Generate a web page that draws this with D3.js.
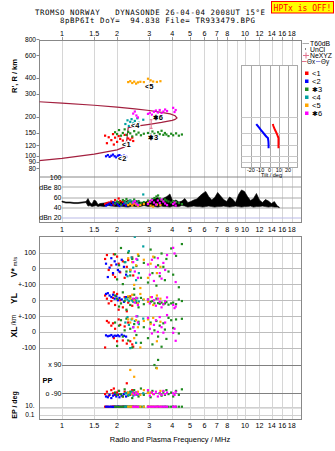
<!DOCTYPE html>
<html>
<head>
<meta charset="utf-8">
<script src="https://cdn.jsdelivr.net/npm/d3@7"></script>
<style>
body{margin:0;background:#fff;}
svg{display:block;font-family:"Liberation Sans",Arial,sans-serif;}
.mono{font-family:"DejaVu Sans Mono",monospace;white-space:pre;}
</style>
</head>
<body>
<svg id="chart" width="335" height="451"></svg>
<script>
(function(){
// ---- axis ticks ----
const topFreqTicks=[1,1.5,2,3,4,5,6,7,8,10,12,14,16,18];
const midFreqTicks=[1,1.5,2,3,4,5,6,7,8,9,10,12,14,16,18];
const heightTicks=[800,600,400,300,200,150,120,100,90,80];
const dbTicks=[100,80,60,40,20];
const dbTickText=['100','dBe 80','60','40','dBn 20'];
const tiltTicks=[-20,-10,0,10,20];
const insetHeights=[200,150,120,100,90];

// ---- clusters ----
const clusterMarks=['<','<','\u2731','<','<','\u2731'];
const clusterNums=['1','2','3','4','5','6'];
const clusterColors=['#ff0000','#0000ff','#1f8a1f','#00a0a0','#ffa500','#ff00ff'];
const clusterLabelF=[2.13,2.02,2.95,2.38,2.84,3.13];
const clusterLabelH=[117,91,132,163,326,189];

// echo rows: [freq MHz, height km, dB, V* m/s, YL km, XL km, PP deg, EP deg]
const echo1=[
  [1.72,143,47,60,30,-100,-95,10],[1.76,125,49,85,10,70,-80,10],[1.80,139,50,-10,-20,60,-105,9],
  [1.86,132,52,20,-5,40,-70,10],[1.90,147,48,-40,15,55,-90,11],[1.92,122,46,90,50,-40,-60,10],
  [1.95,138,55,-55,-30,20,-100,10],[2.00,128,50,75,40,-60,-85,9],[2.04,142,58,30,-60,80,-75,10],
  [2.08,135,53,-25,0,45,-95,10],[2.15,131,51,45,-45,-55,-110,11],[2.20,145,47,-60,20,35,-80,10],
  [2.26,127,49,10,-70,-75,-27,10],[2.30,136,52,53,-15,60,-90,9],[2.36,133,50,-11,25,-60,-100,10],
  [2.42,138,46,70,-35,-80,-70,10],[2.45,130,48,-45,5,-95,-85,11]
];
const echo2=[
  [1.74,99,44,30,40,-22,-110,10],[1.78,101,46,-55,45,-28,-115,10],[1.82,98,48,5,30,-25,-100,10],
  [1.86,100,45,65,20,-20,-120,10],[1.90,102,50,-30,35,-30,-105,9],[1.94,99,47,45,10,-24,-95,10],
  [1.98,97,49,25,25,-26,-110,10],[2.02,100,46,-10,0,-22,-100,11],[2.06,101,43,-20,15,-28,-115,10],
  [2.12,99,45,55,5,-18,-105,10],[2.18,100,48,10,-10,-25,-95,10],[2.24,98,44,-40,20,-30,-110,10]
];
const echo3=[
  [1.95,152,48,90,30,60,-85,10],[2.00,147,52,-70,10,-90,-100,10],[2.05,158,50,20,-40,40,-75,9],
  [2.10,143,46,130,-20,75,-95,10],[2.15,150,55,-100,50,-30,-110,10],[2.20,160,53,40,-5,10,-65,11],
  [2.25,145,57,-20,-60,85,-90,10],[2.30,153,51,100,20,-55,-105,10],[2.36,149,54,-45,-30,20,-80,10],
  [2.42,141,52,60,0,-100,-120,10],[2.48,155,56,-130,35,50,-70,9],[2.55,146,50,15,-15,-20,-95,10],
  [2.62,151,53,80,-45,65,-110,10],[2.70,144,49,-60,15,-70,-60,10],[2.80,148,51,35,-25,30,-100,10],
  [2.95,150,54,-90,5,-40,-85,11],[3.05,146,52,120,-10,60,-115,10],[3.12,154,57,-30,-5,-80,-75,10],
  [3.20,148,59,70,-20,10,88,10],[3.28,144,62,-110,10,70,70,10],[3.35,152,64,20,-18,-30,120,10],
  [3.42,147,58,-50,-22,40,-90,9],[3.50,156,55,95,-15,-95,-105,10],[3.58,145,53,10,-25,55,-80,10],
  [3.65,150,56,-75,-20,15,-100,10],[3.72,146,54,60,-12,-45,-70,10],[3.82,142,52,-20,-28,90,-95,10],
  [3.95,148,50,127,-20,75,-85,10],[4.05,144,53,-40,-15,25,-110,11],[4.20,149,51,80,-25,80,-75,10],
  [4.35,143,49,-120,5,-10,-100,10],[4.52,146,47,155,-5,84,-65,10]
];
const echo4=[
  [2.22,176,50,40,10,60,-90,10],[2.28,188,48,-50,5,95,-85,10],[2.32,170,52,110,-5,45,-100,10],
  [2.36,183,54,-20,15,-104,-95,9],[2.40,192,49,70,0,80,-80,10],[2.45,178,51,5,-10,30,-105,10],
  [2.50,186,53,201,8,70,-90,10],[2.54,172,47,-75,-3,-70,-85,11],[2.58,195,50,55,12,100,-100,10],
  [2.63,180,46,-30,-8,50,-95,10],[2.78,190,66,140,2,85,-90,10]
];
const echo5=[
  [2.30,372,45,65,25,80,-85,10],[2.36,378,47,-10,10,60,57,10],[2.42,366,44,40,35,85,-95,10],
  [2.48,375,48,-105,0,-40,14,9],[2.54,362,46,20,15,75,-90,10],[2.60,370,43,90,-20,30,-80,10],
  [2.68,374,45,-125,40,-100,-100,10],[2.80,372,47,55,5,70,-70,10],[2.95,395,49,-60,-10,80,-88,11],
  [3.05,384,44,30,20,50,-85,10],[3.15,376,42,75,-30,90,-95,10],[3.30,373,46,-30,30,-60,67,10],
  [3.45,378,45,10,10,65,-75,10]
];
const echo6=[
  [2.45,212,50,40,10,30,-90,10],[2.50,220,53,-20,-15,5,-100,10],[2.55,205,48,60,15,100,-85,10],
  [2.60,198,45,-60,-30,60,-95,9],[2.95,211,47,25,5,90,-70,10],[3.02,215,52,-40,-20,20,-105,10],
  [3.10,208,55,55,20,-10,-85,10],[3.18,219,50,-80,0,45,-95,10],[3.26,224,46,10,-35,75,-80,10],
  [3.34,216,54,65,10,0,-110,11],[3.42,226,49,-30,-10,95,-90,10],[3.50,213,56,-65,-45,30,-100,10],
  [3.58,220,52,35,-25,-5,-75,10],[3.66,228,48,-10,-5,60,-95,10],[3.75,222,45,85,18,108,-85,10],
  [4.05,235,47,131,-30,-6,-90,10],[4.12,218,50,95,-50,20,-100,10],[4.18,226,44,-87,-40,-57,-80,10]
];
const echoes=[echo1,echo2,echo3,echo4,echo5,echo6];

// ---- profile curve (upper edge out, lower edge back) ----
const profileF=[0.749,1.0,1.5,2.0,2.5,3.0,3.5,3.9,4.15,4.25,4.15,4.0,3.5,3.0,2.5,2.3,2.27,2.24,2.2,2.0,1.5,1.0,0.749];
const profileH=[262,256,246,238,231,224,217,211,204,196,191,188,181,175,169,165,140,121,117,111,103,95.5,91.5];
const errBarF=3.07, errBarH=[163,190];

// ---- tilt inset ----
const tiltH=[176,170,164,158,152,146,141,137,130,122,114];
const tiltX=[3.6,4.2,5.0,6.0,7.2,8.3,9.0,9.7,9.7,9.7,9.7];
const tiltY=[-14.3,-12.7,-11.0,-9.2,-7.3,-5.3,-3.5,-1.7,-1.2,-1.0,-1.0];

// ---- dBe trace ----
const dbeFreq=[1.00,1.05,1.106,1.163,1.223,1.286,1.353,1.387,1.422,1.458,1.496,1.534,1.573,1.613,
  1.697,1.784,1.876,1.973,2.075,2.182,2.295,2.413,2.538,2.669,2.807,2.952,3.104,3.223,
  3.346,3.474,3.607,3.745,3.888,4.037,4.191,4.352,4.518,4.691,4.87,5.057,5.25,5.451,
  5.66,5.876,6.101,6.334,6.577,6.828,7.09,7.36,7.643,7.935,8.239,8.554,8.881,9.221,
  9.573,9.94,10.32,10.72,11.13,11.55,12.0,12.45,12.93,13.43,13.94,14.47,15.03,15.4];
const dbeHi=[53,51,51,50,50,51,52,58,50,47,55,53,46,48,
  49,50,52,51,53,50,55,52,54,51,50,53,56,58,
  60,55,59,62,67,52,55,51,53,58,50,52,55,57,
  63,68,72,62,55,60,70,63,56,52,61,57,50,66,
  75,72,62,54,58,68,55,50,56,53,48,52,43,41];
const dbeLo=[51,49,49,48,48,49,50,43,44,42,43,44,42,43,
  42,44,43,42,43,42,41,43,42,42,44,42,43,42,
  41,43,42,42,41,43,42,42,44,43,41,42,43,42,
  42,41,42,43,42,41,42,42,43,42,41,42,43,42,
  41,42,42,43,41,42,42,43,42,41,42,41,41,40];

// ---- scales ----
const x=d3.scaleLog().domain([1,10]).range([62,245]);
const yH=d3.scaleLog().domain([100,800]).range([155.7,39.2]);
const yDb=d3.scaleLinear().domain([20,100]).range([217.7,177.3]);
const yV=d3.scaleLinear().domain([-100,100]).range([284.1,252.7]);
const yYL=d3.scaleLinear().domain([-100,100]).range([316,284.5]);
const yXL=d3.scaleLinear().domain([-100,100]).range([347.5,316.3]);
const yPP=d3.scaleLinear().domain([-90,90]).range([393.3,364.7]);
const yEP=d3.scaleLog().domain([0.1,10]).range([415,406.7]);
const xT=d3.scaleLinear().domain([-30,30]).range([241.7,297.3]);

const L=39.5,R=301.5,T1=40.5,B1=222.5,T2=236.5,B2=419.5;
const px=v=>Math.round(v)+0.5;

const svg=d3.select('#chart');
const defs=svg.append('defs');
defs.append('clipPath').attr('id','clipTop').append('rect').attr('x',L).attr('y',T1).attr('width',R-L).attr('height',177.3-T1);
defs.append('clipPath').attr('id','clipLow').append('rect').attr('x',L).attr('y',T2).attr('width',R-L).attr('height',B2-T2);

// header
svg.append('text').attr('class','mono').attr('x',35).attr('y',14.5).attr('font-size',7.4)
  .attr('textLength',230).attr('lengthAdjust','spacing')
  .text('TROMSO NORWAY   DYNASONDE 26-04-04 2008UT 15\u00b0E');
svg.append('text').attr('class','mono').attr('x',60).attr('y',22.5).attr('font-size',7.4)
  .attr('textLength',195).attr('lengthAdjust','spacing')
  .text('8pBP6It DoY=  94.838 File= TR933479.BPG');
svg.append('rect').attr('x',271.5).attr('y',1.5).attr('width',62).attr('height',11.5).attr('fill','#ffff00').attr('stroke','#ff0000');
svg.append('text').attr('class','mono').attr('x',302.5).attr('y',10.5).attr('text-anchor','middle').attr('font-size',8)
  .attr('fill','#ff0000').text('HPTx is OFF!');

// frequency gridlines
const grid=svg.append('g').attr('stroke','#d6d6d6').attr('stroke-width',1);
midFreqTicks.forEach(f=>{
  grid.append('line').attr('x1',px(x(f))).attr('x2',px(x(f))).attr('y1',T1).attr('y2',B1);
  grid.append('line').attr('x1',px(x(f))).attr('x2',px(x(f))).attr('y1',T2).attr('y2',B2);
});
topFreqTicks.forEach(f=>{
  grid.append('line').attr('x1',px(x(f))).attr('x2',px(x(f))).attr('y1',37).attr('y2',T1).attr('stroke','#999');
});

// dBe horizontal lines
dbTicks.forEach(v=>{
  svg.append('line').attr('x1',v===100?L:62).attr('x2',R).attr('y1',px(yDb(v))-0.5).attr('y2',px(yDb(v))-0.5)
    .attr('stroke',v===100?'#888':(v===20?'#b9b9e6':'#aaa'));
});

// lower panel horizontal lines
const lowLines=[[yV,100],[yV,0],[yV,-100],[yYL,0],[yYL,-100],[yXL,0],[yXL,-100]];
lowLines.forEach(([s,v])=>svg.append('line').attr('x1',L).attr('x2',R).attr('y1',px(s(v))).attr('y2',px(s(v))).attr('stroke','#bdbdbd'));
[90,-90].forEach(v=>svg.append('line').attr('x1',62).attr('x2',R).attr('y1',px(yPP(v))).attr('y2',px(yPP(v))).attr('stroke','#808080'));
[10,0.1].forEach(v=>svg.append('line').attr('x1',L).attr('x2',R).attr('y1',px(yEP(v))).attr('y2',px(yEP(v))).attr('stroke','#d0d0d0'));
svg.append('line').attr('x1',L).attr('x2',R).attr('y1',408.5).attr('y2',408.5).attr('stroke','#e0e0e0');

// frames
svg.append('rect').attr('x',L).attr('y',T1).attr('width',R-L).attr('height',B1-T1).attr('fill','none').attr('stroke','#888');
svg.append('rect').attr('x',L).attr('y',T2).attr('width',R-L).attr('height',B2-T2).attr('fill','none').attr('stroke','#888');

// frequency labels
const tl=svg.append('g').attr('font-size',7.2).attr('text-anchor','middle').attr('fill','#000');
topFreqTicks.forEach(f=>tl.append('text').attr('x',x(f)).attr('y',35.5).text(f));
midFreqTicks.forEach(f=>tl.append('text').attr('x',x(f)).attr('y',232).text(f));
topFreqTicks.forEach(f=>tl.append('text').attr('x',x(f)).attr('y',427.5).text(f));
svg.append('text').attr('x',170).attr('y',441.5).attr('text-anchor','middle').attr('font-size',7.5)
  .text('Radio and Plasma Frequency / MHz');

// height labels
const hl=svg.append('g').attr('font-size',6.6).attr('text-anchor','end');
heightTicks.forEach(h=>{
  hl.append('text').attr('x',36).attr('y',yH(h)+2.3).text(h);
  svg.append('line').attr('x1',36.5).attr('x2',L).attr('y1',px(yH(h))).attr('y2',px(yH(h))).attr('stroke','#888');
});
const il=svg.append('g').attr('font-size',7).attr('text-anchor','end');
dbTicks.forEach((v,i)=>{
  il.append('text').attr('x',61.5).attr('y',yDb(v)+2.5).text(dbTickText[i]);
});
const lowLabels=[[yV,100,'100'],[yV,0,'0'],[yV,-100,'+-100'],[yYL,0,'0'],[yYL,-100,'+-100'],[yXL,0,'0'],[yXL,-100,'-100']];
lowLabels.forEach(([s,v,t])=>il.append('text').attr('x',36).attr('y',s(v)+2.5).text(t));
il.append('text').attr('x',61.5).attr('y',yPP(90)+2.5).text('x 90');
il.append('text').attr('x',61.5).attr('y',yPP(-90)+2.5).text('o -90');
hl.append('text').attr('x',34.5).attr('y',yEP(10)+1.5).text('10.');
hl.append('text').attr('x',34.5).attr('y',yEP(0.1)+2.3).text('0.1');

// side titles
const rot=(t,cx,cy,size,bold)=>svg.append('text').attr('transform',`translate(${cx},${cy}) rotate(-90)`)
  .attr('text-anchor','middle').attr('font-size',size).attr('font-weight',bold?'bold':'normal').text(t);
rot("R', R / km",16.5,76,7.5,true);
const vt=svg.append('text').attr('transform','translate(16.5,267) rotate(-90)').attr('text-anchor','middle');
vt.append('tspan').attr('font-size',8.5).attr('font-weight','bold').text('V*');
vt.append('tspan').attr('font-size',6).text(' m/s');
rot('YL',16.5,298.5,8.5,true);
rot('/km',15.5,320,6.5,false);
rot('XL',16.5,332,8.5,true);
rot('EP / deg',16.5,405,7,true);
svg.append('text').attr('x',42.5).attr('y',383).attr('font-size',7.5).attr('font-weight','bold').text('PP');

// cluster tag: small arrow/star mark + number
const tag=(sel,i,size)=>{
  const star=clusterMarks[i]!=='<';
  sel.append('tspan').attr('font-size',star?size*0.9:size).text(clusterMarks[i]);
  sel.append('tspan').attr('font-size',size).text(clusterNums[i]);
};

// ---- top panel ----
const top=svg.append('g').attr('clip-path','url(#clipTop)');
const prof=profileF.map((f,i)=>[f,profileH[i]]);
top.append('path').datum(prof).attr('fill','none').attr('stroke','#a3203f').attr('stroke-width',1.2)
  .attr('d',d3.line().x(d=>x(d[0])).y(d=>yH(d[1])));
const ebx=x(errBarF);
top.append('path').attr('fill','none').attr('stroke','#e0708c').attr('stroke-width',1)
  .attr('d',`M${ebx-1.5},${yH(errBarH[0])}H${ebx+1.5}M${ebx},${yH(errBarH[0])}V${yH(errBarH[1])}M${ebx-1.5},${yH(errBarH[1])}H${ebx+1.5}`);

const sq=2.2;
echoes.forEach((rows,ci)=>{
  top.append('g').attr('fill',clusterColors[ci]).selectAll('rect').data(rows).join('rect')
    .attr('x',d=>x(d[0])-sq/2).attr('y',d=>yH(d[1])-sq/2).attr('width',sq).attr('height',sq);
});
echoes.forEach((rows,ci)=>{
  const t=top.append('text').attr('x',x(clusterLabelF[ci])).attr('y',yH(clusterLabelH[ci]))
    .attr('font-weight','bold').attr('fill','#000')
    .attr('stroke','#fff').attr('stroke-width',2).attr('paint-order','stroke');
  tag(t,ci,7.5);
});

// tilt inset
const ins=svg.append('g');
ins.append('rect').attr('x',241.5).attr('y',65.5).attr('width',56).attr('height',102).attr('fill','#fff').attr('stroke','#aaa');
tiltTicks.forEach(t=>ins.append('line').attr('x1',px(xT(t))).attr('x2',px(xT(t))).attr('y1',65.5).attr('y2',167.5).attr('stroke','#aaa'));
insetHeights.forEach(h=>ins.append('line').attr('x1',241.5).attr('x2',297.5).attr('y1',px(yH(h))).attr('y2',px(yH(h))).attr('stroke','#c8c8c8'));
ins.append('path').datum(tiltH.map((h,i)=>[tiltY[i],h])).attr('fill','none').attr('stroke','#0000ff').attr('stroke-width',2)
  .attr('d',d3.line().x(d=>xT(d[0])).y(d=>yH(d[1])));
ins.append('path').datum(tiltH.map((h,i)=>[tiltX[i],h])).attr('fill','none').attr('stroke','#ff0000').attr('stroke-width',2)
  .attr('d',d3.line().x(d=>xT(d[0])).y(d=>yH(d[1])));
tiltTicks.forEach(t=>ins.append('text').attr('x',xT(t)).attr('y',172).attr('text-anchor','middle').attr('font-size',5.5).text(t));
ins.append('text').attr('x',xT(0)+2).attr('y',176.5).attr('text-anchor','middle').attr('font-size',5.5).text('Tilt / deg');

// dBe trace
const dbe=dbeFreq.map((f,i)=>({f,hi:dbeHi[i],lo:dbeLo[i]}));
svg.append('path').datum(dbe).attr('fill','#000').attr('stroke','#000').attr('stroke-width',0.6)
  .attr('d',d3.area().x(d=>x(d.f)).y0(d=>yDb(d.lo)).y1(d=>yDb(d.hi)));
echoes.forEach((rows,ci)=>{
  svg.append('g').attr('fill',clusterColors[ci]).selectAll('rect').data(rows).join('rect')
    .attr('x',d=>x(d[0])-sq/2).attr('y',d=>yDb(d[2])-sq/2).attr('width',sq).attr('height',sq);
});

// ---- lower panel ----
const low=svg.append('g').attr('clip-path','url(#clipLow)');
const rowScales=[[3,yV],[4,yYL],[5,yXL],[6,yPP],[7,yEP]];
echoes.forEach((rows,ci)=>{
  const g=low.append('g').attr('fill',clusterColors[ci]);
  rowScales.forEach(([k,s])=>{
    g.selectAll(null).data(rows).join('rect')
      .attr('x',d=>x(d[0])-sq/2).attr('y',d=>s(d[k])-sq/2).attr('width',sq).attr('height',sq);
  });
});

// ---- legend ----
const lg=svg.append('g').attr('font-size',6.8);
lg.append('line').attr('x1',302.5).attr('x2',309).attr('y1',43.5).attr('y2',43.5).attr('stroke','#aaa');
lg.append('text').attr('x',310).attr('y',46).text('T60dB');
lg.append('rect').attr('x',305).attr('y',48.5).attr('width',1).attr('height',1).attr('fill','#000');
lg.append('text').attr('x',310).attr('y',52).text('UnCl');
lg.append('path').attr('d','M303,55.5H309M306,52.5V58.5').attr('stroke','#e0708c');
lg.append('text').attr('x',310).attr('y',58).text('NeXYZ');
lg.append('line').attr('x1',302).attr('x2',306.5).attr('y1',61.5).attr('y2',61.5).attr('stroke','#e0708c');
lg.append('text').attr('x',307).attr('y',64).attr('font-size',6.3).text('\u0398x');
lg.append('line').attr('x1',316).attr('x2',320.5).attr('y1',61.5).attr('y2',61.5).attr('stroke','#8c8ce0');
lg.append('text').attr('x',321).attr('y',64).attr('font-size',6.3).text('\u0398y');
clusterNums.forEach((n,i)=>{
  const y=73.5+i*8;
  lg.append('rect').attr('x',305).attr('y',y-2).attr('width',3.5).attr('height',3.5).attr('fill',clusterColors[i]);
  tag(lg.append('text').attr('x',312).attr('y',y+2.5),i,7.5);
});
})();
</script>
</body>
</html>
